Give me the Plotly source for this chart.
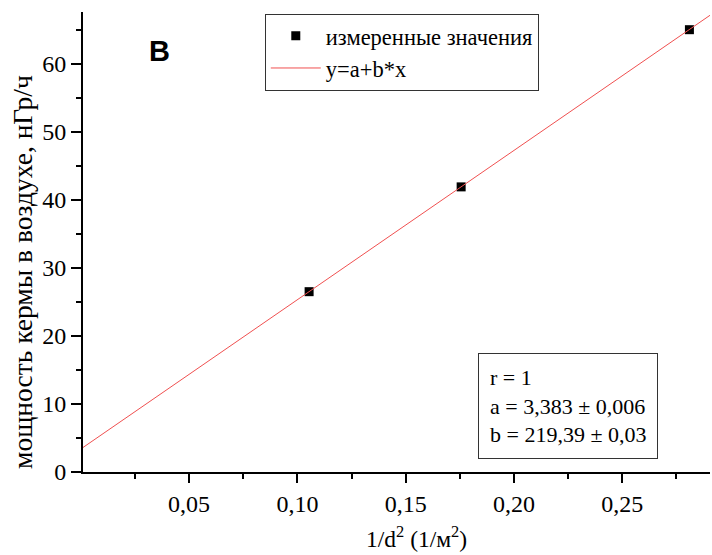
import plotly.graph_objects as go

# data
x_meas = [0.1054, 0.1756, 0.2810]
y_meas = [26.5, 41.9, 65.0]
fit_a = 3.383
fit_b = 219.39
x_range = [0.001, 0.2905]
y_range = [0, 67.6]
stats_lines = ["r = 1", "a = 3,383 ± 0,006", "b = 219,39 ± 0,03"]
legend_names = ["измеренные значения", "y=a+b*x"]
x_title = "1/d<sup>2</sup> (1/м<sup>2</sup>)"
y_title = "мощность кермы в воздухе, нГр/ч"

fit_x = [x_range[0], x_range[1]]
fit_y = [fit_a + fit_b * v for v in fit_x]

SERIF = "Liberation Serif, Times New Roman, serif"

fig = go.Figure()
fig.add_trace(go.Scatter(x=x_meas, y=y_meas, mode="markers", name=legend_names[0],
                         marker=dict(symbol="square", size=9, color="black")))
fig.add_trace(go.Scatter(x=fit_x, y=fit_y, mode="lines", name=legend_names[1],
                         line=dict(color="#f05050", width=1)))

W0, W1, H0, H1 = 83.3, 710.0, 11.7, 471.7
def px(x):
    return (x - W0) / (W1 - W0)
def py(y):
    return (H1 - y) / (H1 - H0)

fig.update_layout(
    width=712, height=555,
    margin=dict(l=83, r=2, t=12, b=83, autoexpand=False),
    paper_bgcolor="white", plot_bgcolor="white",
    separators=", ",
    font=dict(family=SERIF, size=22, color="black"),
    showlegend=True,
    legend=dict(x=px(265), y=py(13.3), xanchor="left", yanchor="top",
                bordercolor="#333333", borderwidth=1, bgcolor="white",
                font=dict(family=SERIF, size=22.5, color="black"),
                itemwidth=50, tracegroupgap=0),
    xaxis=dict(range=x_range, showgrid=False, zeroline=False, automargin=False,
               showline=True, linecolor="black", linewidth=2,
               ticks="outside", ticklen=9, tickwidth=2, tickcolor="black",
               tick0=0, dtick=0.05, tickformat=".2f",
               tickfont=dict(family=SERIF, size=24),
               minor=dict(ticks="outside", ticklen=5, tickwidth=2, tickcolor="black", dtick=0.025, tick0=0)),
    yaxis=dict(range=y_range, showgrid=False, zeroline=False, automargin=False,
               showline=True, linecolor="black", linewidth=2,
               ticks="outside", ticklen=10, tickwidth=2, tickcolor="black",
               tick0=0, dtick=10,
               tickfont=dict(family=SERIF, size=24),
               minor=dict(ticks="outside", ticklen=5, tickwidth=2, tickcolor="black", dtick=5, tick0=0)),
)

# axis titles placed as text where the reference puts them
fig.add_annotation(xref="paper", yref="paper", x=px(23), y=py(272),
                   text=y_title, textangle=-90, showarrow=False,
                   xanchor="center", yanchor="middle",
                   font=dict(family=SERIF, size=27.5, color="black"))
fig.add_annotation(xref="paper", yref="paper", x=px(417), y=py(537),
                   text=x_title, showarrow=False,
                   xanchor="center", yanchor="middle",
                   font=dict(family=SERIF, size=23.5, color="black"))

fig.add_annotation(xref="paper", yref="paper", x=px(160), y=py(50.7),
                   text="<b>B</b>", showarrow=False, xanchor="center", yanchor="middle",
                   font=dict(family="Liberation Sans, Arial, sans-serif", size=29, color="black"))

fig.add_annotation(xref="paper", yref="paper", x=px(478.3), y=py(352.3),
                   xanchor="left", yanchor="top", align="left",
                   text="<br>".join(stats_lines), showarrow=False,
                   bordercolor="#333333", borderwidth=1, borderpad=11, bgcolor="white",
                   font=dict(family=SERIF, size=22, color="black"))

fig.write_html("out.html", config={"displayModeBar": False},
               post_script="document.body.style.margin='0';document.body.style.overflow='hidden';")
